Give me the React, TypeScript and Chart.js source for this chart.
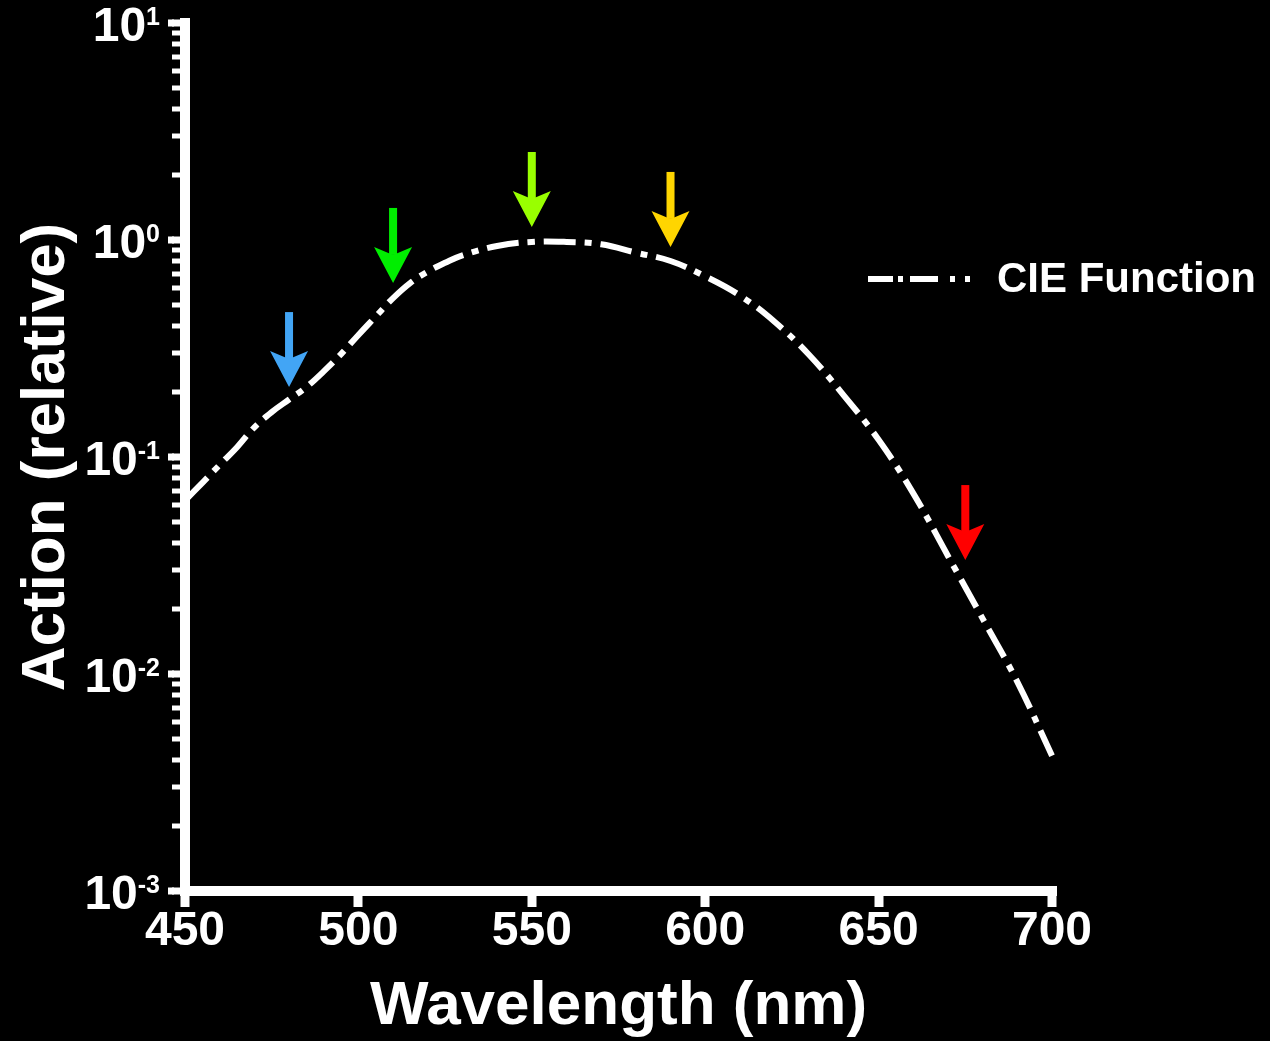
import { useEffect, useRef } from "react";
import { Chart, registerables } from "chart.js";
Chart.register(...registerables);

// ---- data ----
const wavelengths = [450, 455, 460, 465, 470, 475, 480, 485, 490, 495, 500, 505, 510, 515, 520, 525, 530, 540, 550, 560, 570, 580, 590, 600, 610, 620, 630, 640, 650, 660, 670, 680, 690, 700];
const cieValues = [0.063, 0.076, 0.092, 0.111, 0.137, 0.161, 0.184, 0.21, 0.248, 0.298, 0.365, 0.444, 0.54, 0.635, 0.715, 0.785, 0.85, 0.938, 0.98, 0.98, 0.955, 0.875, 0.8, 0.68, 0.555, 0.42, 0.295, 0.192, 0.12, 0.068, 0.035, 0.018, 0.0092, 0.0042];
const seriesLabel = "CIE Function";

const arrowWavelengths = [480, 510, 550, 590, 675];
const arrowTipValues = [0.21, 0.634, 1.148, 0.929, 0.0335];
const arrowColors = ["#42a5f5", "#00ee00", "#99ff00", "#ffd500", "#ff0000"];

const xTicks = [450, 500, 550, 600, 650, 700];
const yDecades = [0.001, 0.01, 0.1, 1, 10];
const yDecadeExponents = ["-3", "-2", "-1", "0", "1"];
const yMinorMultipliers = [2, 3, 4, 5, 6, 7, 8, 9];
const xTitle = "Wavelength (nm)";
const yTitle = "Action (relative)";

const FONT = "'Liberation Sans', Arial, Helvetica, sans-serif";

function isMajor(v: number) {
  return yDecades.some((d) => Math.abs(v - d) / d < 1e-6);
}

const bgPlugin = {
  id: "bg",
  beforeDraw(chart: any) {
    const ctx = chart.ctx;
    ctx.save();
    ctx.fillStyle = "#000";
    ctx.fillRect(0, 0, chart.width, chart.height);
    ctx.restore();
  },
};

const overlayPlugin = {
  id: "overlay",
  afterDraw(chart: any) {
    const ctx = chart.ctx;
    const ys = chart.scales.y;
    const left = chart.chartArea.left;
    ctx.save();
    ctx.fillStyle = "#fff";
    // longer major ticks + superscript labels
    const labelRight = left - 25;
    yDecades.forEach((d, i) => {
      const y = ys.getPixelForValue(d);
      ctx.fillRect(left - 17, y - 3.5, 6, 7);
      ctx.font = `bold 25px ${FONT}`;
      ctx.textAlign = "right";
      ctx.textBaseline = "alphabetic";
      const sup = yDecadeExponents[i];
      const supW = ctx.measureText(sup).width;
      ctx.fillText(sup, labelRight, y + 2);
      ctx.font = `bold 48px ${FONT}`;
      ctx.fillText("10", labelRight - supW, y + 18);
    });
    // legend
    const ly = 279;
    const segs = [
      [868, 893],
      [898, 903],
      [910, 938],
      [950, 955],
      [965, 970],
    ];
    segs.forEach(([a, b]) => ctx.fillRect(a, ly - 3, b - a, 6));
    ctx.font = `bold 42px ${FONT}`;
    ctx.textAlign = "left";
    ctx.textBaseline = "alphabetic";
    ctx.fillText(chart.data.datasets[0].label, 997, 292);
    ctx.restore();
  },
  afterDatasetsDraw(chart: any) {
    const ctx = chart.ctx;
    const xs = chart.scales.x;
    const ys = chart.scales.y;
    ctx.save();
    arrowWavelengths.forEach((w, i) => {
      const x = xs.getPixelForValue(w);
      const tip = ys.getPixelForValue(arrowTipValues[i]);
      const len = 75;
      const headLen = 36;
      const halfW = 19;
      const shaftHalf = 4;
      const hs = tip - headLen;
      ctx.fillStyle = arrowColors[i];
      ctx.fillRect(x - shaftHalf, tip - len, shaftHalf * 2, len - headLen + 8);
      ctx.beginPath();
      ctx.moveTo(x, tip);
      ctx.lineTo(x - halfW, hs);
      ctx.lineTo(x, hs + 8);
      ctx.lineTo(x + halfW, hs);
      ctx.closePath();
      ctx.fill();
    });
    ctx.restore();
  },
};

export default function App() {
  const ref = useRef<HTMLCanvasElement>(null);
  useEffect(() => {
    document.body.style.background = "#000";
    const canvas = ref.current!;
    const chart = new Chart(canvas, {
      type: "line",
      data: {
        datasets: [
          {
            label: seriesLabel,
            data: wavelengths.map((w, i) => ({ x: w, y: cieValues[i] })),
            borderColor: "#fff",
            borderWidth: 6,
            borderDash: [32, 9, 7, 9],
            borderCapStyle: "butt",
            pointRadius: 0,
            tension: 0.4,
            fill: false,
            clip: { left: -5, right: 5, top: 10, bottom: 5 },
          } as any,
        ],
      },
      options: {
        responsive: false,
        animation: false,
        devicePixelRatio: 1,
        layout: { padding: { left: 0, top: 23, right: 218, bottom: 0 } },
        plugins: { legend: { display: false }, tooltip: { enabled: false } },
        scales: {
          x: {
            type: "linear",
            min: 450,
            max: 700,
            afterFit: (s: any) => {
              s.height = 150;
            },
            afterBuildTicks: (s: any) => {
              s.ticks = xTicks.map((v) => ({ value: v }));
            },
            ticks: {
              color: "#fff",
              font: { family: FONT, size: 48, weight: "bold" },
              padding: -4,
              maxRotation: 0,
              autoSkip: false,
              callback: (v: any) => String(v),
            },
            grid: {
              drawOnChartArea: false,
              drawTicks: true,
              tickLength: 16,
              tickWidth: 9,
              tickColor: "#fff",
              lineWidth: 10,
              color: "#fff",
            },
            border: { display: true, color: "#fff", width: 10 },
            title: {
              display: true,
              text: xTitle,
              color: "#fff",
              font: { family: FONT, size: 62, weight: "bold", lineHeight: 1 },
              padding: { top: 0, bottom: 3 },
            },
          },
          y: {
            type: "logarithmic",
            min: 0.001,
            max: 10,
            afterFit: (s: any) => {
              s.width = 185;
            },
            afterBuildTicks: (s: any) => {
              const t: any[] = [];
              yDecades.forEach((d, i) => {
                t.push({ value: d, major: true });
                if (i < yDecades.length - 1) {
                  yMinorMultipliers.forEach((m) => t.push({ value: m * d, major: false }));
                }
              });
              s.ticks = t;
            },
            ticks: {
              autoSkip: false,
              callback: () => "",
              font: { family: FONT, size: 10 },
            },
            grid: {
              drawOnChartArea: false,
              drawTicks: true,
              tickLength: 13,
              tickWidth: (c: any) => (c.tick && isMajor(c.tick.value) ? 7 : 5),
              tickColor: "#fff",
              lineWidth: 10,
              color: "#fff",
            },
            border: { display: true, color: "#fff", width: 10 },
            title: {
              display: true,
              text: yTitle,
              color: "#fff",
              font: { family: FONT, size: 62, weight: "bold", lineHeight: 1.2 },
              padding: { top: 10, bottom: 0 },
            },
          },
        },
      } as any,
      plugins: [bgPlugin, overlayPlugin],
    });
    return () => chart.destroy();
  }, []);
  return (
    <div style={{ position: "absolute", left: 0, top: 0, width: 1270, height: 1041, background: "#000" }}>
      <canvas ref={ref} width={1270} height={1041} style={{ display: "block" }} />
    </div>
  );
}
